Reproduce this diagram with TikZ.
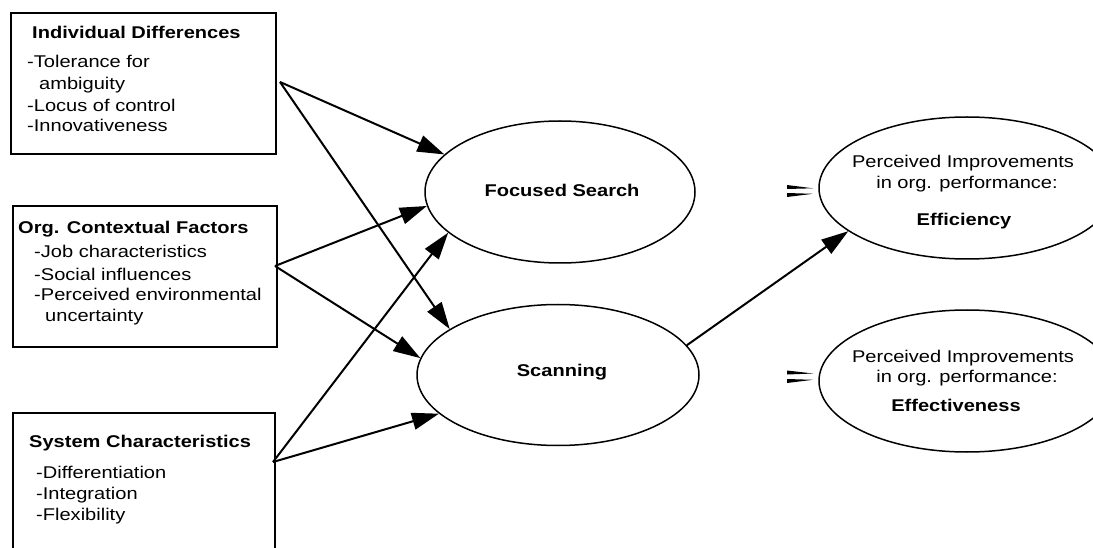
\documentclass[tikz,border=0pt]{standalone}
\usepackage{fontspec}
\setmainfont{Liberation Sans}[FakeStretch=1.18]
\usetikzlibrary{shapes.geometric,arrows.meta}
\newcommand\diafont{\fontsize{17}{20}\selectfont}
\begin{document}
\begin{tikzpicture}[x=1pt,y=-1pt,
  box/.style={draw, line width=1.8pt, anchor=north west, inner sep=0},
  oval/.style={ellipse, draw, line width=1.5pt, inner sep=0},
  ttl/.style={anchor=base west, inner sep=0, font=\diafont\bfseries},
  itm/.style={anchor=base west, inner sep=0, font=\diafont},
  ctr/.style={anchor=base, inner sep=0, font=\diafont},
  ctrb/.style={anchor=base, inner sep=0, font=\diafont\bfseries},
  arr/.style={line width=2pt, -{Triangle[length=27pt,width=17pt]}},
  wedge/.style={fill=black}]
\useasboundingbox (0,0) rectangle (1093,548);

% boxes
\node[box, minimum width=265pt, minimum height=141pt] (b1) at (10,12) {};
\node[box, minimum width=264pt, minimum height=141pt] (b2) at (12,205) {};
\node[box, minimum width=262pt, minimum height=150pt] (b3) at (12,412) {};

\node[ttl] (t1) at (32,39) {Individual Differences};
\node[itm] (t1a) at (27,68) {-Tolerance for};
\node[itm] (t1b) at (39,90) {ambiguity};
\node[itm] (t1c) at (27,112) {-Locus of control};
\node[itm] (t1d) at (27,132) {-Innovativeness};

\node[ttl] (t2) at (18,234) {Org. Contextual Factors};
\node[itm] (t2a) at (34,258) {-Job characteristics};
\node[itm] (t2b) at (34,280) {-Social influences};
\node[itm] (t2c) at (34,301) {-Perceived environmental};
\node[itm] (t2d) at (45,322) {uncertainty};

\node[ttl] (t3) at (29,447) {System Characteristics};
\node[itm] (t3a) at (36,478) {-Differentiation};
\node[itm] (t3b) at (36,499) {-Integration};
\node[itm] (t3c) at (36,520) {-Flexibility};

% ellipses
\node[oval, minimum width=270pt, minimum height=142pt] (fs) at (560,192) {};
\node[ctrb] (fst) at (562,197) {Focused Search};
\node[oval, minimum width=282pt, minimum height=141pt] (sc) at (558,375) {};
\node[ctrb] (sct) at (562,376) {Scanning};

\node[oval, minimum width=296pt, minimum height=142pt] (ef) at (967,188) {};
\node[ctr] (efa) at (963,168) {Perceived Improvements};
\node[ctr] (efb) at (967,189) {in org. performance:};
\node[ctrb] (efc) at (964,226) {Efficiency};

\node[oval, minimum width=296pt, minimum height=142pt] (ev) at (967,381) {};
\node[ctr] (eva) at (963,362) {Perceived Improvements};
\node[ctr] (evb) at (967,382) {in org. performance:};
\node[ctrb] (evc) at (956,411) {Effectiveness};

% sources
\coordinate (s1) at (280,82);
\coordinate (s2) at (275,266);
\coordinate (s3) at (273,462);

\draw[arr] (s1) -- (fs.162.7);
\draw[arr] (s1) -- (sc.157.9);
\draw[arr] (s2) -- (fs.186.5);
\draw[arr] (s2) -- (sc.173.1);
\draw[arr] (s3) -- (fs.200.4);
\draw[arr] (s3) -- (sc.198.4);
\draw[arr] (sc.13.6) -- (ef.200.2);

% small double marks
\fill[wedge] (787,185) -- (787,189) -- (813,188.3) -- cycle;
\fill[wedge] (787,193) -- (787,197) -- (813,193.8) -- cycle;
\fill[wedge] (787,370.5) -- (787,374.5) -- (813,373.5) -- cycle;
\fill[wedge] (787,379) -- (787,383) -- (813,379.8) -- cycle;
\end{tikzpicture}
\end{document}
